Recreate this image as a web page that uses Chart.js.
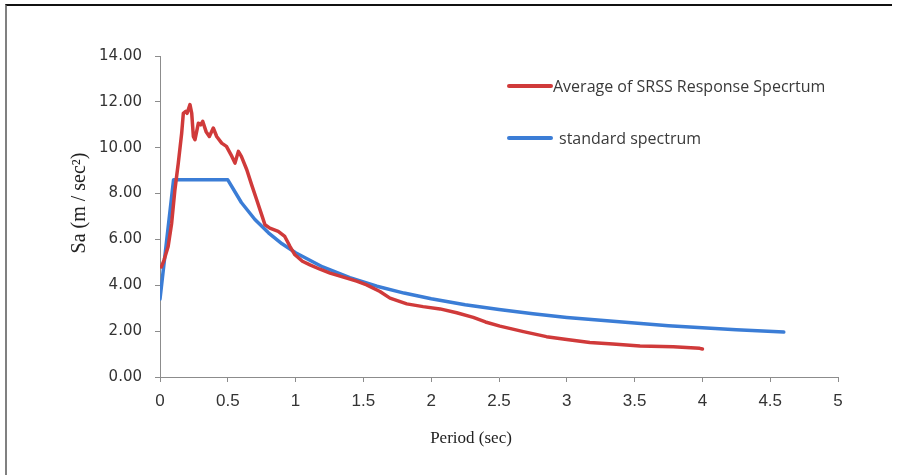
<!DOCTYPE html>
<html>
<head>
<meta charset="utf-8">
<title>Response spectrum</title>
<script src="https://cdn.jsdelivr.net/npm/chart.js@4.4.1/dist/chart.umd.min.js"></script>
<style>
    body { margin: 0; background: #fff; }
    #wrap { position: relative; width: 899px; height: 475px; overflow: hidden; }
    #frame {
        position: absolute; left: 5px; top: 4px; width: 885px; height: 480px;
        border-top: 2px solid #111; border-left: 2px solid #808080;
    }
    canvas { position: absolute; left: 0; top: 0; }
</style>
</head>
<body>
<div id="wrap">
    <div id="frame"></div>
    <canvas id="spectrumChart" width="899" height="475"></canvas>
</div>
<script>
// average SRSS spectrum of the records
const srssPeriod = [0.01, 0.03, 0.06, 0.086, 0.11, 0.135, 0.16, 0.172, 0.19, 0.2, 0.221, 0.234, 0.246, 0.258,
    0.283, 0.3, 0.315, 0.34, 0.364, 0.393, 0.418, 0.455, 0.49, 0.53, 0.553, 0.578, 0.6, 0.64, 0.676, 0.713,
    0.75, 0.774, 0.81, 0.872, 0.92, 0.959, 0.995, 1.05, 1.106, 1.18, 1.254, 1.377, 1.45, 1.524, 1.622, 1.696,
    1.82, 1.94, 2.065, 2.188, 2.31, 2.4, 2.507, 2.68, 2.85, 3.0, 3.17, 3.34, 3.54, 3.785, 3.98, 4.0];
const srssSa = [4.8, 5.1, 5.69, 6.71, 8.17, 9.33, 10.64, 11.5, 11.59, 11.5, 11.88, 11.5, 10.49, 10.35,
    11.07, 11.0, 11.15, 10.7, 10.49, 10.86, 10.49, 10.2, 10.06, 9.62, 9.33, 9.84, 9.62, 9.04, 8.38, 7.73,
    7.07, 6.64, 6.49, 6.35, 6.13, 5.69, 5.33, 5.05, 4.89, 4.7, 4.53, 4.31, 4.18, 4.02, 3.73, 3.44,
    3.19, 3.07, 2.97, 2.8, 2.6, 2.4, 2.22, 1.98, 1.76, 1.64, 1.5, 1.44, 1.35, 1.32, 1.25, 1.22];

// design (standard) spectrum
const stdPeriod = [0, 0.1, 0.5, 0.6, 0.7, 0.8, 0.9, 1.0, 1.2, 1.4, 1.6, 1.8, 2.0, 2.25, 2.5, 2.75,
    3.0, 3.25, 3.5, 3.75, 4.0, 4.25, 4.6];
const stdSa = [3.4, 8.6, 8.6, 7.61, 6.87, 6.29, 5.81, 5.42, 4.8, 4.33, 3.96, 3.66, 3.41, 3.15, 2.94, 2.76,
    2.6, 2.47, 2.35, 2.24, 2.15, 2.06, 1.96];

const seriesNames = ['Average of SRSS Response Specrtum', 'standard spectrum'];
const xTicks = [0, 0.5, 1, 1.5, 2, 2.5, 3, 3.5, 4, 4.5, 5];
const yTicks = [0, 2, 4, 6, 8, 10, 12, 14];
const xTitle = 'Period (sec)';
const yTitle = 'Sa (m / sec²)';

const redLine = '#d03a3a';
const blueLine = '#3b7dd6';
const axisGray = '#8c8c8c';

function toPoints(xs, ys) {
    return xs.map((x, i) => ({ x: x, y: ys[i] }));
}

// axis titles and the legend, drawn by hand
const extras = {
    id: 'extras',
    afterDraw(chart) {
        const c = chart.ctx;
        c.save();

        c.fillStyle = '#222';
        c.textAlign = 'center';
        c.textBaseline = 'middle';
        c.font = '17px "Liberation Serif", serif';
        c.fillText(xTitle, 471, 439);

        c.save();
        c.translate(80, 203);
        c.rotate(-Math.PI / 2);
        c.font = '20px "Liberation Serif", serif';
        c.fillText(yTitle, 0, 0);
        c.restore();

        const rows = [{ y: 86, gap: 2 }, { y: 138, gap: 8 }];
        c.textAlign = 'left';
        chart.data.datasets.forEach((ds, i) => {
            const r = rows[i];
            c.strokeStyle = ds.borderColor;
            c.lineWidth = 4;
            c.lineCap = 'round';
            c.beginPath();
            c.moveTo(509, r.y);
            c.lineTo(551, r.y);
            c.stroke();
            c.fillStyle = '#3a3a3a';
            c.font = '16px "Open Sans", sans-serif';
            c.fillText(ds.label, 551 + r.gap, r.y + 1);
        });
        c.restore();
    }
};

const ctx = document.getElementById('spectrumChart');

new Chart(ctx, {
    type: 'line',
    data: {
        datasets: [{
            label: seriesNames[0],
            data: toPoints(srssPeriod, srssSa),
            borderColor: redLine,
            borderWidth: 3.5,
            pointRadius: 0,
            tension: 0,
            borderJoinStyle: 'round',
            borderCapStyle: 'round'
        }, {
            label: seriesNames[1],
            data: toPoints(stdPeriod, stdSa),
            borderColor: blueLine,
            borderWidth: 3.5,
            pointRadius: 0,
            tension: 0,
            borderJoinStyle: 'round',
            borderCapStyle: 'round'
        }]
    },
    options: {
        responsive: false,
        animation: false,
        layout: { padding: { left: 0, top: 56, right: 61, bottom: 0 } },
        plugins: {
            legend: { display: false },
            tooltip: { enabled: false }
        },
        scales: {
            x: {
                type: 'linear',
                min: 0,
                max: 5,
                afterBuildTicks: (scale) => { scale.ticks = xTicks.map(v => ({ value: v })); },
                afterFit: (scale) => { scale.height = 98; },
                grid: { drawOnChartArea: false, color: axisGray, tickLength: 5 },
                border: { color: axisGray, width: 1 },
                ticks: {
                    color: '#333',
                    padding: 9,
                    font: { family: '"Liberation Sans Narrow", "Liberation Sans", sans-serif', size: 17 },
                    callback: (v) => String(v)
                }
            },
            y: {
                min: 0,
                max: 14,
                afterBuildTicks: (scale) => { scale.ticks = yTicks.map(v => ({ value: v })); },
                afterFit: (scale) => { scale.width = 160; },
                grid: { drawOnChartArea: false, color: axisGray, tickLength: 5 },
                border: { color: axisGray, width: 1 },
                ticks: {
                    color: '#333',
                    padding: 13,
                    font: { family: '"DejaVu Sans", sans-serif', size: 15 },
                    callback: (v) => v.toFixed(2)
                }
            }
        }
    },
    plugins: [extras]
});
</script>
</body>
</html>
